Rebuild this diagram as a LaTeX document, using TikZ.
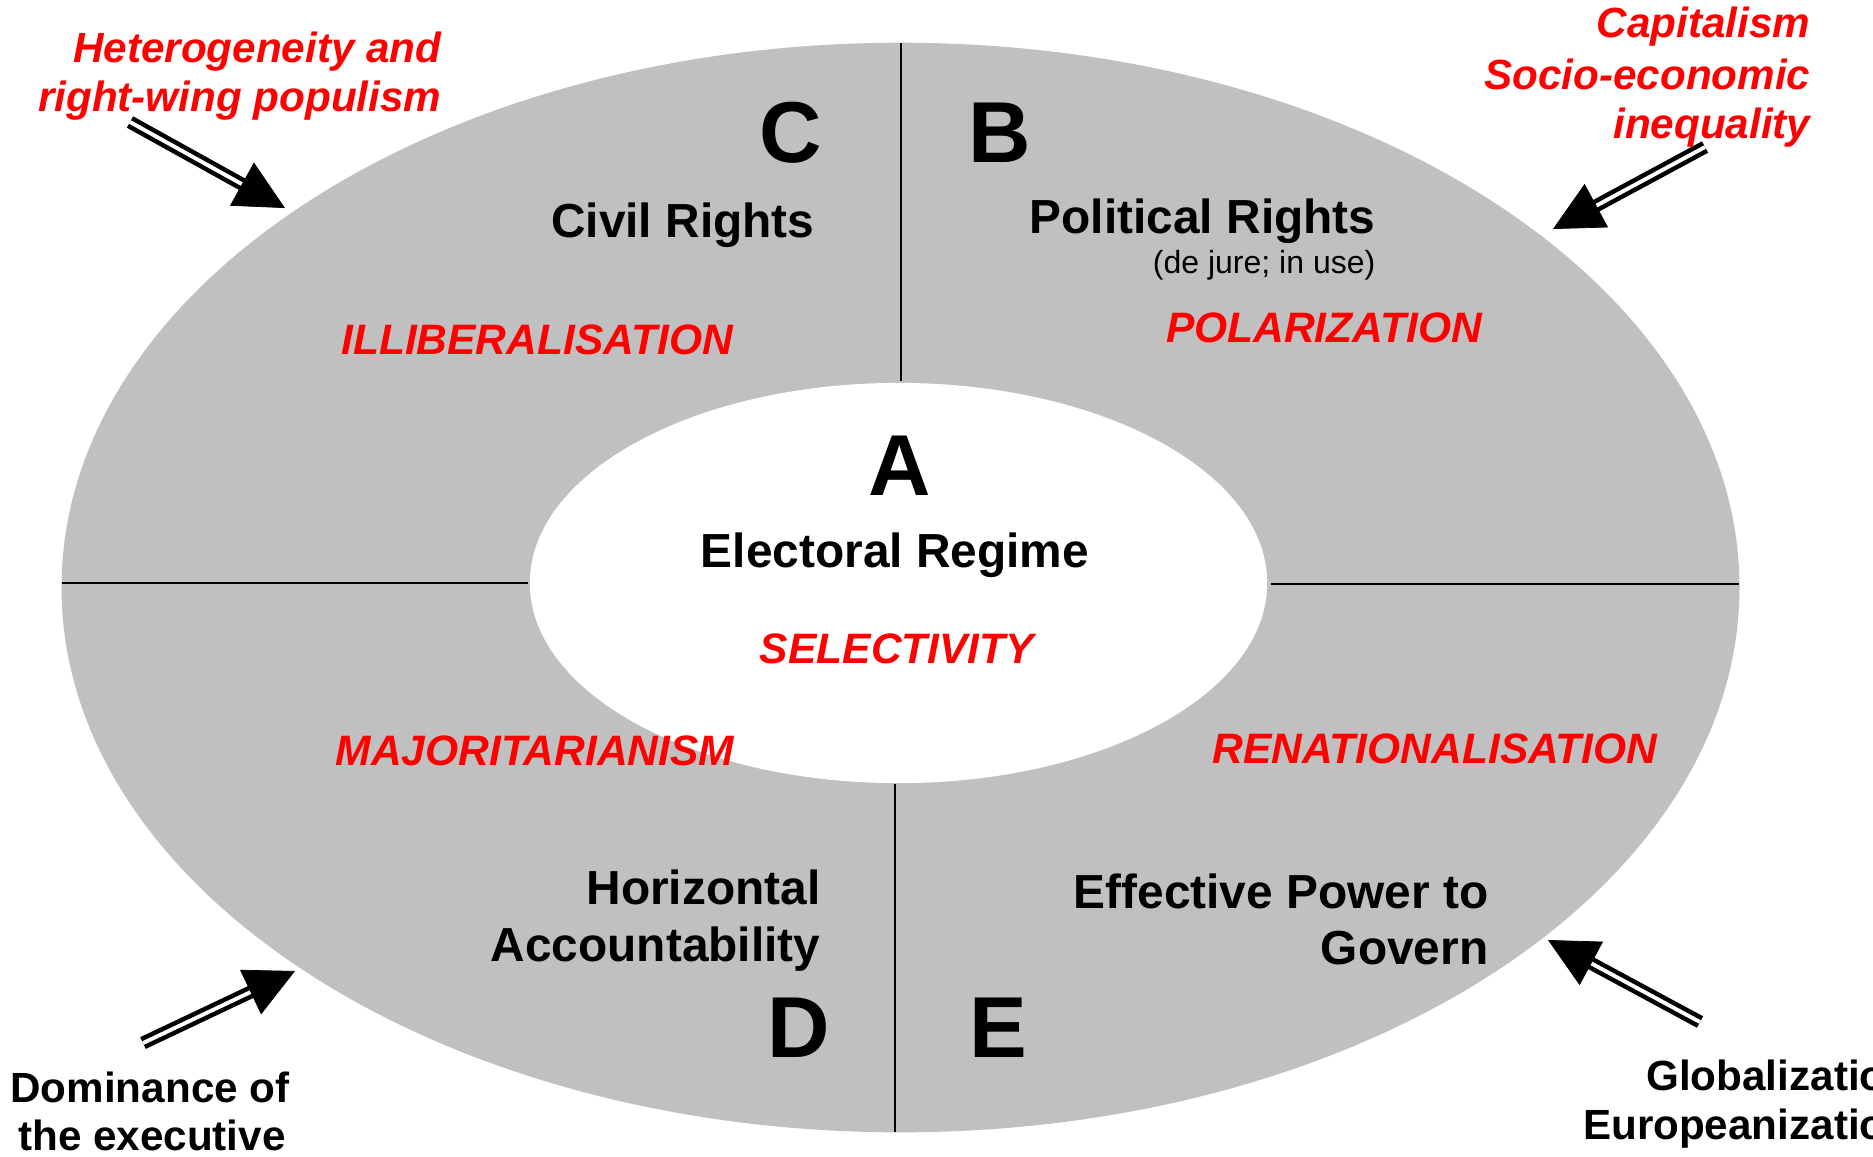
\documentclass[tikz,border=0pt]{standalone}
\usepackage{fontspec}
\setmainfont{Liberation Sans}
\usetikzlibrary{arrows.meta,calc}
\definecolor{ringgray}{HTML}{C0C0C0}
\definecolor{labred}{HTML}{FF0000}

\tikzset{
  bigletter/.style={inner sep=0pt, font=\bfseries\fontsize{24.6pt}{28pt}\selectfont},
  dimtext/.style={inner sep=0pt, font=\bfseries\fontsize{13.6pt}{16pt}\selectfont},
  subtext/.style={inner sep=0pt, font=\fontsize{9.1pt}{11pt}\selectfont},
  process/.style={inner sep=0pt, text=labred, font=\bfseries\itshape\fontsize{12.1pt}{14pt}\selectfont},
  driverred/.style={inner sep=0pt, text=labred, font=\bfseries\itshape\fontsize{12pt}{14pt}\selectfont},
  driverblack/.style={inner sep=0pt, font=\bfseries\fontsize{12pt}{14pt}\selectfont},
  divider/.style={line width=0.7pt, black},
  shaft/.style={draw=black, line width=1.3pt, double=white, double distance=1.1pt},
  headtip/.style={-{Triangle[length=14pt, width=14pt]}, line width=0.2pt}
}

\begin{document}
\begin{tikzpicture}[x=0.01cm, y=-0.01cm]
\useasboundingbox (0,0) rectangle (1873,1156);
\clip (0,0) rectangle (1873,1156);

% ring and centre
\fill[ringgray] (900.5,587.5) ellipse [x radius=8.385cm, y radius=5.445cm];
\fill[white] (898.5,583) ellipse [x radius=3.685cm, y radius=2.0cm];

% sector dividers
\coordinate (topout) at (901,43);
\coordinate (topin) at (901,381);
\coordinate (botin) at (895,784);
\coordinate (botout) at (895,1132);
\coordinate (leftout) at (62,583);
\coordinate (leftin) at (528,583);
\coordinate (rightin) at (1271,584);
\coordinate (rightout) at (1739,584);
\draw[divider] (topout) -- (topin);
\draw[divider] (botin) -- (botout);
\draw[divider] (leftout) -- (leftin);
\draw[divider] (rightin) -- (rightout);

% partial regimes
\node[bigletter, anchor=base] (lA) at (900,495) {A};
\node[bigletter, anchor=base] (lB) at (1000,162) {B};
\node[bigletter, anchor=base] (lC) at (791,162) {C};
\node[bigletter, anchor=base] (lD) at (799,1057) {D};
\node[bigletter, anchor=base] (lE) at (998,1057) {E};

\node[dimtext, anchor=base] (electoral) at (895,567) {Electoral Regime};
\node[dimtext, anchor=base east] (civil) at (815,237) {Civil Rights};
\node[dimtext, anchor=base east] (political) at (1376,233) {Political Rights};
\node[subtext, anchor=base east] (dejure) at (1376,273) {(de jure; in use)};
\node[dimtext, anchor=base east] (horiz1) at (821,904) {Horizontal};
\node[dimtext, anchor=base east] (horiz2) at (821,961) {Accountability};
\node[dimtext, anchor=base east] (power1) at (1489,908) {Effective Power to};
\node[dimtext, anchor=base east] (power2) at (1489,964) {Govern};

% processes
\node[process, anchor=base] (illib) at (537,354) {ILLIBERALISATION};
\node[process, anchor=base] (polar) at (1324,342) {POLARIZATION};
\node[process, anchor=base] (select) at (897,663) {SELECTIVITY};
\node[process, anchor=base] (major) at (535,765) {MAJORITARIANISM};
\node[process, anchor=base] (renat) at (1435,763) {RENATIONALISATION};

% external drivers
\node[driverred, anchor=base east] (het1) at (442,62) {Heterogeneity and};
\node[driverred, anchor=base east] (het2) at (442,111) {right-wing populism};
\node[driverred, anchor=base east] (cap1) at (1811,37) {Capitalism};
\node[driverred, anchor=base east] (cap2) at (1811,89) {Socio-economic};
\node[driverred, anchor=base east] (cap3) at (1811,138) {inequality};
\node[driverblack, anchor=base] (dom1) at (150,1102) {Dominance of};
\node[driverblack, anchor=base] (dom2) at (152,1150) {the executive};
\node[driverblack, anchor=base east] (glob1) at (1912,1090) {Globalization};
\node[driverblack, anchor=base east] (glob2) at (1912,1139) {Europeanization};

% pressure arrows
\coordinate (a1s) at (130,122);  \coordinate (a1t) at (285,208);
\coordinate (a2s) at (1705,147); \coordinate (a2t) at (1553,229);
\coordinate (a3s) at (143,1043); \coordinate (a3t) at (295,971);
\coordinate (a4s) at (1700,1022);\coordinate (a4t) at (1548,940);
\foreach \k in {1,2,3,4}{
  \draw[shaft] (a\k s) -- ($(a\k t)!11pt!(a\k s)$);
  \draw[headtip] ($(a\k t)!6pt!(a\k s)$) -- (a\k t);
}
\end{tikzpicture}
\end{document}
